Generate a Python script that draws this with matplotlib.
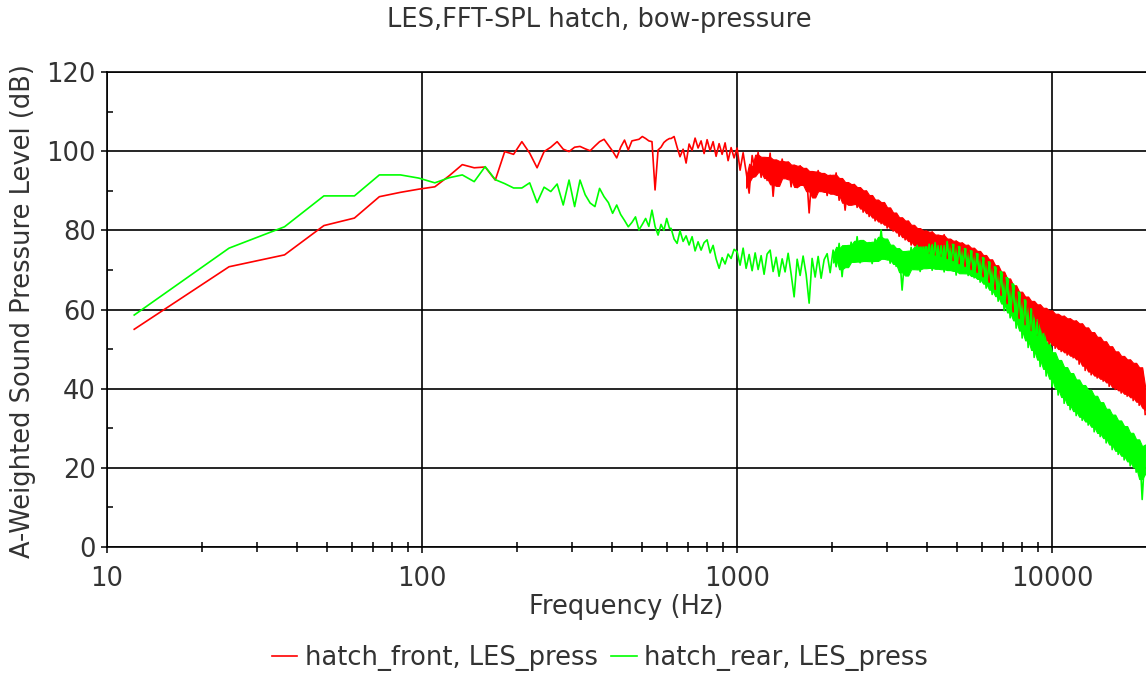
import matplotlib
matplotlib.use("Agg")
import matplotlib.pyplot as plt
import pandas as pd
from matplotlib.ticker import FixedLocator, NullFormatter

# low band: individual FFT bins (Hz)
freq_lo = [12.2, 24.4, 36.6, 48.8, 61.0, 73.2, 85.4, 97.6, 109.8, 122.0,
           134.2, 146.4, 158.6, 170.8, 183.0, 195.2, 207.4, 219.6, 231.8, 244.0,
           256.2, 268.4, 280.6, 292.8, 305.0, 317.2, 329.4, 341.6, 353.8, 366.0,
           378.2, 390.4, 402.6, 414.8, 427.0, 439.2, 451.4, 463.6, 475.8, 488.0,
           500.2, 512.4, 524.6, 536.8, 549.0, 561.2, 573.4, 585.6, 597.8, 610.0]
front_lo = [55.0, 70.8, 73.8, 81.2, 83.1, 88.5, 89.6, 90.4, 91.0, 93.8,
            96.6, 95.8, 96.0, 92.7, 99.9, 99.2, 102.4, 99.5, 95.8, 99.9,
            101.0, 102.4, 100.5, 99.9, 101.0, 101.2, 100.6, 100.1, 101.3, 102.4,
            103.0, 101.5, 100.0, 98.3, 101.0, 102.8, 100.3, 102.6, 102.8, 103.0,
            103.7, 103.2, 102.6, 102.4, 90.2, 100.3, 101.0, 102.2, 102.8, 103.2]
rear_lo = [58.6, 75.5, 80.9, 88.7, 88.7, 94.0, 94.0, 93.2, 92.0, 93.3,
           94.0, 92.3, 96.1, 92.8, 91.8, 90.7, 90.7, 92.0, 87.0, 90.9,
           89.8, 91.7, 86.4, 92.7, 86.0, 92.7, 89.0, 86.9, 86.0, 90.6,
           88.5, 87.0, 84.3, 86.4, 84.0, 82.5, 80.9, 82.0, 83.4, 80.1,
           81.5, 83.0, 81.0, 85.1, 81.0, 78.8, 81.5, 80.0, 83.0, 80.5]

# high band: sampled readings (Hz)
freq_hi = [617.3, 631.0, 645.0, 658.8, 673.9, 688.8, 704.1, 719.7, 735.6, 751.9,
           768.6, 785.7, 803.1, 820.9, 839.1, 857.7, 876.7, 896.2, 916.0, 936.3,
           957.1, 978.3, 1000, 1022, 1045, 1068, 1092, 1116, 1141, 1166,
           1192, 1218, 1245, 1273, 1301, 1330, 1359, 1390, 1420, 1452,
           1484, 1517, 1551, 1585, 1620, 1656, 1693, 1730, 1769, 1808,
           1848, 1889, 1931, 1974, 2017, 2062, 2108, 2154, 2202, 2251,
           2301, 2352, 2404, 2457, 2512, 2568, 2625, 2683, 2742, 2803,
           2865, 2929, 2994, 3060, 3128, 3197, 3268, 3340, 3415, 3490,
           3568, 3647, 3728, 3810, 3895, 3981, 4069, 4160, 4252, 4346,
           4442, 4541, 4642, 4745, 4850, 4957, 5067, 5180, 5294, 5412,
           5532, 5654, 5780, 5908, 6039, 6173, 6310, 6450, 6593, 6739,
           6888, 7041, 7197, 7356, 7520, 7686, 7857, 8031, 8209, 8391,
           8577, 8767, 8962, 9160, 9363, 9571, 9783, 10000, 10222, 10449,
           10680, 10917, 11159, 11406, 11659, 11918, 12182, 12453, 12729, 13011,
           13300, 13594, 13895, 14203, 14518, 14840, 15169, 15505, 15849, 16200,
           16559, 16926, 17301, 17685, 18077, 18478, 18888, 19307, 19735]
front_hi = [103.2, 103.7, 101.0, 98.6, 100.5, 97.0, 101.8, 100.2, 103.3, 100.8,
            102.6, 99.4, 102.9, 100.1, 102.4, 98.7, 101.9, 99.2, 102.1, 97.6,
            100.9, 98.3, 100.8, 95.2, 99.6, 94.8, 89.4, 98.9, 95.1, 99.7,
            93.4, 98.2, 92.6, 99.5, 88.6, 97.4, 92.1, 98.0, 93.5, 97.2,
            91.0, 96.4, 90.8, 96.3, 91.7, 95.6, 84.4, 94.8, 89.6, 95.1,
            90.0, 94.3, 88.8, 93.9, 89.4, 94.5, 87.6, 92.8, 85.1, 92.0,
            86.9, 91.6, 85.8, 90.7, 84.6, 89.9, 83.5, 88.6, 82.4, 87.5,
            81.7, 87.0, 80.6, 85.4, 79.8, 84.2, 78.5, 83.0, 77.6, 82.3,
            76.3, 81.1, 75.7, 80.4, 75.1, 79.8, 74.2, 79.6, 73.8, 78.7,
            73.5, 78.9, 72.9, 77.6, 72.4, 77.3, 71.6, 76.8, 70.9, 76.2,
            70.1, 75.4, 69.4, 74.6, 68.3, 73.5, 66.9, 72.4, 65.1, 70.8,
            63.6, 69.2, 61.5, 67.4, 59.4, 65.7, 57.8, 64.1, 56.2, 63.0,
            54.7, 61.9, 53.5, 61.1, 52.4, 60.2, 51.3, 59.6, 50.2, 58.7,
            49.4, 58.3, 48.5, 57.6, 47.8, 57.1, 46.2, 56.3, 44.6, 55.2,
            43.5, 54.0, 42.7, 52.8, 41.9, 51.7, 40.6, 50.4, 39.8, 49.1,
            38.9, 48.0, 38.1, 47.2, 37.0, 46.3, 35.8, 45.1, 33.5]
rear_hi = [80.5, 77.8, 76.7, 79.9, 77.2, 78.6, 76.3, 78.4, 74.8, 77.1,
           75.0, 76.9, 77.6, 74.3, 76.2, 72.8, 70.4, 73.1, 71.5, 74.0,
           72.9, 75.2, 74.6, 71.2, 75.5, 70.4, 73.9, 69.8, 74.3, 70.1,
           73.6, 68.9, 74.0, 75.0, 69.6, 73.2, 68.4, 72.8, 69.5, 74.2,
           69.0, 63.2, 72.7, 68.6, 73.5, 68.9, 61.6, 72.9, 68.2, 73.4,
           67.9, 72.6, 74.1, 69.3, 75.0, 70.8, 76.7, 68.3, 76.1, 71.5,
           77.0, 72.2, 78.4, 71.8, 77.3, 72.4, 76.9, 71.6, 77.8, 72.5,
           80.1, 72.9, 77.2, 71.7, 76.1, 70.9, 75.3, 64.9, 74.6, 69.8,
           75.7, 70.3, 76.2, 69.6, 75.8, 70.7, 76.5, 69.9, 76.9, 70.4,
           76.0, 69.5, 77.2, 70.1, 76.4, 68.7, 75.9, 69.3, 75.4, 68.6,
           74.8, 68.0, 74.1, 66.9, 73.0, 65.4, 71.9, 63.8, 70.6, 62.1,
           69.4, 59.7, 67.8, 57.9, 66.2, 55.3, 64.0, 52.8, 62.1, 50.4,
           59.7, 47.9, 56.8, 45.6, 53.9, 43.2, 51.0, 40.5, 48.6, 38.4,
           46.8, 36.3, 45.0, 34.7, 43.6, 33.2, 41.9, 32.0, 40.6, 30.8,
           39.4, 29.1, 37.8, 27.9, 36.2, 26.3, 34.5, 24.6, 33.1, 23.4,
           31.6, 22.0, 30.2, 20.5, 28.4, 18.9, 26.8, 12.0, 25.0]

freq = freq_lo + freq_hi
front = front_lo + front_hi
rear = rear_lo + rear_hi

txt = '#333333'
fs = 18.5
red = '#ff0000'
green = '#00ff00'


def band(ax, x, y, start, color):
    # the spectrum is too dense to resolve here: shade its core spread
    s = pd.Series(y, index=x)
    s = s[s.index >= start]
    r = s.rolling(4, center=True, min_periods=1)
    ax.fill_between(s.index, r.quantile(0.25), r.quantile(0.75), color=color, lw=0.8, edgecolor=color)


fig = plt.figure(figsize=(11.46, 6.78), dpi=100)
ax = fig.add_axes([107/1146, 131/678, 1040/1146, 475/678])

l1, = ax.plot(freq, front, color=red, lw=1.2, label='hatch_front, LES_press')
band(ax, freq_hi, front_hi, 1050, red)
l2, = ax.plot(freq, rear, color=green, lw=1.2, label='hatch_rear, LES_press')
band(ax, freq_hi, rear_hi, 2000, green)

ax.set_xscale('log')
ax.set_xlim(10, 20000)
ax.set_ylim(0, 120)
ax.xaxis.set_major_locator(FixedLocator([10, 100, 1000, 10000]))
ax.set_xticklabels(['10', '100', '1000', '10000'])
ax.xaxis.set_minor_locator(FixedLocator([m * d for d in [10, 100, 1000, 10000] for m in range(2, 10)]))
ax.xaxis.set_minor_formatter(NullFormatter())
ax.set_yticks(range(0, 121, 20))
ax.set_yticks(range(10, 120, 20), minor=True)

ax.grid(True, which='major', color='black', lw=1.2)
ax.set_axisbelow(True)
for s in ax.spines.values():
    s.set_color('black')
    s.set_linewidth(1.2)

ax.tick_params(which='major', direction='out', length=4.5, width=1.1, labelsize=fs, labelcolor=txt)
ax.tick_params(axis='x', which='major', pad=9)
ax.tick_params(axis='y', which='major', pad=3.5)
ax.tick_params(axis='x', which='minor', direction='inout', length=7, width=1.1)
ax.tick_params(axis='y', which='minor', direction='in', length=4.5, width=1.1)

fig.text(599/1146, 1 - 20/678, 'LES,FFT-SPL hatch, bow-pressure', ha='center', va='center', fontsize=fs, color=txt)
fig.text(626/1146, 1 - 607/678, 'Frequency (Hz)', ha='center', va='center', fontsize=fs, color=txt)
fig.text(23/1146, 1 - 311/678, 'A-Weighted Sound Pressure Level (dB)', ha='center', va='center',
         rotation=90, fontsize=fs, color=txt)

fig.legend(handles=[l1, l2], loc='center', bbox_to_anchor=(600/1146, 1 - 658/678), ncol=2,
           frameon=False, fontsize=fs, handlelength=1.0, handletextpad=0.3, columnspacing=0.5,
           labelcolor=txt)

fig.savefig('out.png', dpi=100)
